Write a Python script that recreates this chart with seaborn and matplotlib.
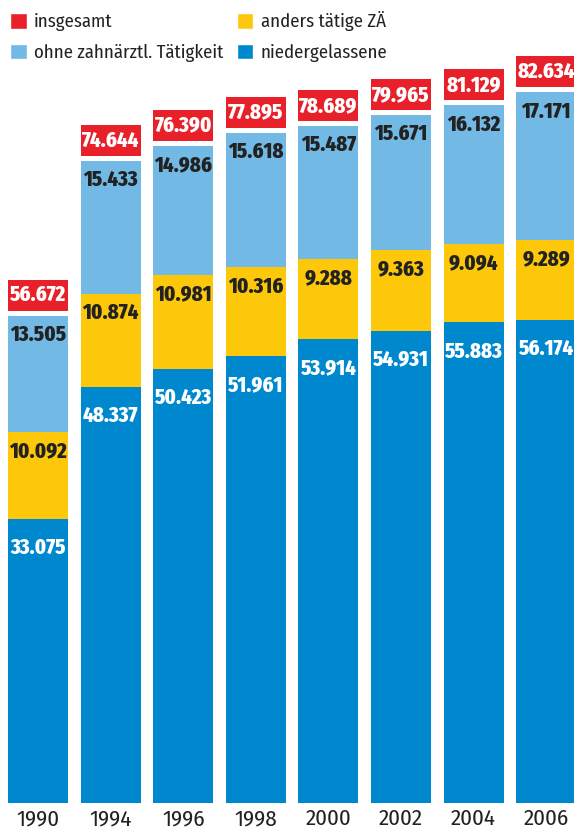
import matplotlib
matplotlib.use("Agg")
import matplotlib.pyplot as plt
import seaborn as sns
import pandas as pd
import numpy as np
from matplotlib.patches import Patch

years = ["1990", "1994", "1996", "1998", "2000", "2002", "2004", "2006"]
niedergelassene = [33075, 48337, 50423, 51961, 53914, 54931, 55883, 56174]
anders_taetige = [10092, 10874, 10981, 10316, 9288, 9363, 9094, 9289]
ohne_taetigkeit = [13505, 15433, 14986, 15618, 15487, 15671, 16132, 17171]
insgesamt = [56672, 74644, 76390, 77895, 78689, 79965, 81129, 82634]

C_RED = "#e8202a"
C_YEL = "#fec80a"
C_LBL = "#73b9e5"
C_BLU = "#0088cf"

sns.set_theme(style="white")
TXT_FONT = ["Fira Sans Condensed", "DejaVu Sans"]
NUM_FONT = ["Fira Sans Extra Condensed", "DejaVu Sans"]
plt.rcParams["font.family"] = TXT_FONT

W, H = 574, 830
fig = plt.figure(figsize=(W / 100, H / 100), dpi=100)
bottom_px = 803
ax = fig.add_axes([0, (H - bottom_px) / H, 1, bottom_px / H])

PX = 0.0086  # px per unit
pitch = 72.6
first_c = 38

df = pd.DataFrame({
    "year": years,
    "blue": niedergelassene,
    "yel": anders_taetige,
    "lbl": ohne_taetigkeit,
})
df["c_yel"] = df["blue"] + df["yel"]
df["c_lbl"] = df["c_yel"] + df["lbl"]

bw = 60 / pitch
for col, color in [("c_lbl", C_LBL), ("c_yel", C_YEL), ("blue", C_BLU)]:
    sns.barplot(data=df, x="year", y=col, color=color, saturation=1,
                width=bw, ax=ax, linewidth=0, order=years)

ax.set_xlim(-first_c / pitch, (W - first_c) / pitch)
ax.set_ylim(0, bottom_px / PX)

xs = np.arange(len(years))
gap = 5 / PX
box_h = 31 / PX
ax.bar(xs, [box_h] * len(xs), bottom=np.array(insgesamt) + gap, width=bw,
       color=C_RED, linewidth=0)

def fmt(v):
    return f"{v:,}".replace(",", ".")

num_kw = dict(fontsize=16, fontweight=800, ha="center", va="center",
              family=NUM_FONT)
for i in range(len(years)):
    tot = insgesamt[i]
    ax.text(xs[i], tot + gap + box_h / 2, fmt(tot), color="white", **num_kw)
    ax.text(xs[i], df["c_lbl"][i] - 19 / PX, fmt(ohne_taetigkeit[i]),
            color="#222222", **num_kw)
    ax.text(xs[i], df["c_yel"][i] - 19 / PX, fmt(anders_taetige[i]),
            color="#222222", **num_kw)
    ax.text(xs[i], niedergelassene[i] - 29 / PX, fmt(niedergelassene[i]),
            color="white", **num_kw)

ax.set_xlabel("")
ax.set_ylabel("")
ax.set_yticks([])
ax.set_xticks(xs)
ax.set_xticklabels(years, fontsize=16.5, color="#222222", family=TXT_FONT)
ax.tick_params(axis="x", length=0, pad=4)
for s in ax.spines.values():
    s.set_visible(False)

handles = [
    Patch(facecolor=C_RED, label="insgesamt"),
    Patch(facecolor=C_LBL, label="ohne zahnärztl. Tätigkeit"),
    Patch(facecolor=C_YEL, label="anders tätige ZÄ"),
    Patch(facecolor=C_BLU, label="niedergelassene"),
]
fig.legend(handles=handles, loc="upper left", bbox_to_anchor=(-0.006, 1.002),
           ncol=2, frameon=False, handlelength=0.9,
           handleheight=0.9, handletextpad=0.4, columnspacing=0.7,
           labelspacing=0.65, borderaxespad=0.3, labelcolor="#222222",
           prop=dict(family=TXT_FONT, size=13.5))

fig.savefig("out.png", dpi=100)
